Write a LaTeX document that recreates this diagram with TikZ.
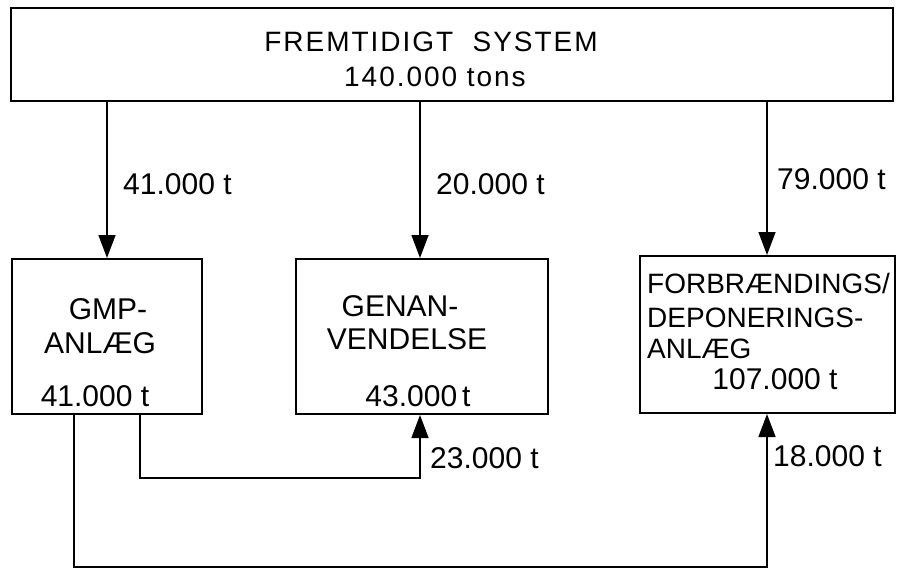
\documentclass[tikz,border=0pt]{standalone}
\usepackage{fontspec}
\setmainfont{Liberation Sans}
\usetikzlibrary{arrows.meta,calc}
\begin{document}
\begin{tikzpicture}[x=1pt,y=-1pt,
  box/.style={draw, line width=2pt, inner sep=0pt},
  txt/.style={inner sep=0pt, font=\fontsize{30}{36}\selectfont},
  toptxt/.style={inner sep=0pt, font=\fontsize{28}{34}\selectfont\addfontfeature{LetterSpace=7}},
  smalltxt/.style={inner sep=0pt, font=\fontsize{28}{34}\selectfont},
  conn/.style={line width=1.4pt},
  arr/.style={conn, -{Triangle[length=23pt,width=17pt]}}]
\useasboundingbox (0,0) rectangle (906,570);
% boxes
\node[box, minimum width=882pt, minimum height=93pt] (top) at (452,54.5) {};
\node[box, minimum width=190pt, minimum height=155pt] (gmp) at (107,336.5) {};
\node[box, minimum width=252pt, minimum height=155pt] (gen) at (422,336.5) {};
\node[box, minimum width=255pt, minimum height=157pt] (for) at (767.5,334.5) {};
% box texts
\node[toptxt, anchor=base] (t1) at (431,51) {FREMTIDIGT\ \ SYSTEM};
\node[toptxt, anchor=base] (t2) at (435,86) {140.000 tons};
\node[txt, anchor=base] (g1) at (108,319) {GMP-};
\node[txt, anchor=base] (g2) at (100,353) {ANLÆG};
\node[txt, anchor=base] (g3) at (95,406) {41.000 t};
\node[txt, anchor=base] (n1) at (400,316) {GENAN-};
\node[txt, anchor=base] (n2) at (407,349) {VENDELSE};
\node[txt, anchor=base] (n3) at (418,406) {43.000\,t};
\node[smalltxt, anchor=base west] (f1) at (647,293) {FORBRÆNDINGS/};
\node[smalltxt, anchor=base west] (f2) at (647,327) {DEPONERINGS-};
\node[smalltxt, anchor=base west] (f3) at (647,358) {ANLÆG};
\node[txt, anchor=base] (f4) at (775,389) {107.000 t};
% coordinates for connectors
\coordinate (gl) at ([xshift=-33pt]gmp.south);
\coordinate (gr) at ([xshift=33pt]gmp.south);
\coordinate (genin) at ([xshift=-2pt]gen.south);
\coordinate (genup) at ([xshift=-2pt]gen.north);
\coordinate (forin) at ([xshift=-0.5pt]for.south);
\coordinate (forup) at ([xshift=-0.5pt]for.north);
\coordinate (mid) at (0,478);
\coordinate (bot) at (0,567);
% connectors
\draw[arr] (top.south -| gmp.north) -- (gmp.north);
\draw[arr] (top.south -| genup) -- (genup);
\draw[arr] (top.south -| forup) -- (forup);
\draw[arr] (gr) -- (gr |- mid) -- (genin |- mid) -- (genin);
\draw[arr] (gl) -- (gl |- bot) -- (forin |- bot) -- (forin);
% flow labels
\node[txt, anchor=base west] (l1) at (123,194) {41.000 t};
\node[txt, anchor=base west] (l2) at (436,194) {20.000 t};
\node[txt, anchor=base west] (l3) at (777,189) {79.000 t};
\node[txt, anchor=base west] (l4) at (430,468) {23.000 t};
\node[txt, anchor=base west] (l5) at (773,466) {18.000 t};
\end{tikzpicture}
\end{document}
